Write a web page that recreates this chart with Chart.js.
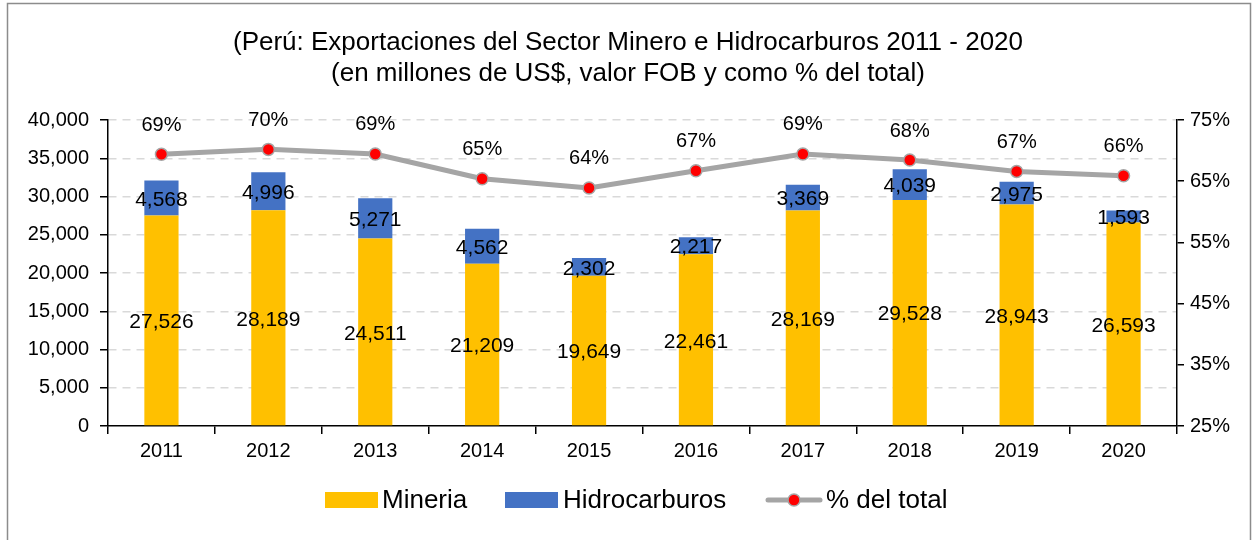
<!DOCTYPE html>
<html>
<head>
<meta charset="utf-8">
<script src="https://cdn.jsdelivr.net/npm/chart.js@4/dist/chart.umd.min.js"></script>
<style>
  html, body { margin: 0; padding: 0; background: #fff; }
  #wrap { width: 1253px; height: 540px; }
</style>
</head>
<body>
<div id="wrap"><canvas id="c" width="1253" height="540"></canvas></div>
<script>
const years = ['2011','2012','2013','2014','2015','2016','2017','2018','2019','2020'];
const mineria = [27526, 28189, 24511, 21209, 19649, 22461, 28169, 29528, 28943, 26593];
const hidrocarburos = [4568, 4996, 5271, 4562, 2302, 2217, 3369, 4039, 2975, 1593];
const pctTotal = [69.4, 70.2, 69.45, 65.4, 63.9, 66.7, 69.45, 68.45, 66.6, 65.9];
const leftTicks = { min: 0, max: 40000, step: 5000 };
const rightTicks = { min: 25, max: 75, step: 10 };
const titleLines = ['(Perú: Exportaciones del Sector Minero e Hidrocarburos 2011 - 2020', '(en millones de US$, valor FOB y como % del total)'];
const seriesNames = ['Mineria', 'Hidrocarburos', '% del total'];

const FONT = "'Liberation Sans', Arial, sans-serif";
const GOLD = '#FFC000', BLUE = '#4472C4', GRAY = '#A5A5A5', RED = '#FF0000';
const fmt = v => Math.round(v).toLocaleString('en-US');

const decor = {
  id: 'decor',
  beforeDraw(chart) {
    const ctx = chart.ctx;
    ctx.save();
    ctx.fillStyle = '#fff';
    ctx.fillRect(0, 0, chart.width, chart.height);
    ctx.restore();
  },
  afterDatasetsDraw(chart) {
    const ctx = chart.ctx;
    ctx.save();
    ctx.fillStyle = '#000';
    ctx.textAlign = 'center';
    ctx.textBaseline = 'middle';
    ctx.font = '21px ' + FONT;
    [0, 1].forEach(di => {
      const meta = chart.getDatasetMeta(di);
      meta.data.forEach((el, i) => {
        const v = chart.data.datasets[di].data[i];
        ctx.fillText(fmt(v), el.x, (el.y + el.base) / 2 + 2);
      });
    });
    ctx.font = '20px ' + FONT;
    const lm = chart.getDatasetMeta(2);
    lm.data.forEach((el, i) => {
      const v = chart.data.datasets[2].data[i];
      ctx.fillText(Math.round(v) + '%', el.x, el.y - 29);
    });
    ctx.restore();
  },
  afterDraw(chart) {
    const ctx = chart.ctx;
    ctx.save();
    // frame
    ctx.strokeStyle = '#8C8C8C';
    ctx.lineWidth = 1.5;
    ctx.beginPath();
    ctx.moveTo(7.5, 545); ctx.lineTo(7.5, 3.5); ctx.lineTo(1250.5, 3.5); ctx.lineTo(1250.5, 545);
    ctx.stroke();
    // title
    ctx.fillStyle = '#000';
    ctx.textAlign = 'center';
    ctx.textBaseline = 'middle';
    ctx.font = '26px ' + FONT;
    ctx.fillText(titleLines[0], 628, 43);
    ctx.fillText(titleLines[1], 628, 74);
    // legend
    ctx.font = '26px ' + FONT;
    ctx.textAlign = 'left';
    const ly = 500;
    ctx.fillStyle = GOLD; ctx.fillRect(325, ly - 8, 53, 16);
    ctx.fillStyle = '#000'; ctx.fillText(seriesNames[0], 382, ly + 1);
    ctx.fillStyle = BLUE; ctx.fillRect(505, ly - 8, 53, 16);
    ctx.fillStyle = '#000'; ctx.fillText(seriesNames[1], 563, ly + 1);
    ctx.strokeStyle = GRAY; ctx.lineWidth = 5; ctx.lineCap = 'round';
    ctx.beginPath(); ctx.moveTo(768, ly); ctx.lineTo(820, ly); ctx.stroke();
    ctx.beginPath(); ctx.arc(794, ly, 6, 0, Math.PI * 2);
    ctx.fillStyle = RED; ctx.fill();
    ctx.lineWidth = 1.5; ctx.strokeStyle = GRAY; ctx.stroke();
    ctx.fillStyle = '#000'; ctx.fillText(seriesNames[2], 826, ly + 1);
    ctx.restore();
  }
};

new Chart(document.getElementById('c'), {
  data: {
    labels: years,
    datasets: [
      { type: 'bar', label: seriesNames[0], data: mineria, backgroundColor: GOLD, stack: 's', order: 1, yAxisID: 'y', barPercentage: 0.32, categoryPercentage: 1 },
      { type: 'bar', label: seriesNames[1], data: hidrocarburos, backgroundColor: BLUE, stack: 's', order: 2, yAxisID: 'y', barPercentage: 0.32, categoryPercentage: 1 },
      { type: 'line', label: seriesNames[2], data: pctTotal, yAxisID: 'y2', order: 0,
        borderColor: GRAY, borderWidth: 5, pointRadius: 6, pointHoverRadius: 6,
        pointBackgroundColor: RED, pointBorderColor: GRAY, pointBorderWidth: 1.5, tension: 0 }
    ]
  },
  options: {
    responsive: false,
    animation: false,
    events: [],
    layout: { padding: { top: 120, bottom: 80, left: 0, right: 0 } },
    plugins: { legend: { display: false }, title: { display: false }, tooltip: { enabled: false } },
    scales: {
      x: {
        stacked: true,
        offset: true,
        grid: { offset: true, drawOnChartArea: false, drawTicks: true, tickLength: 8, tickColor: '#000', lineWidth: 1.5 },
        border: { color: '#000', width: 1.5 },
        ticks: { color: '#000', font: { family: FONT, size: 20 }, padding: 5, maxRotation: 0 },
        afterFit(s) { s.height = 540 - 426 - 80; }
      },
      y: {
        stacked: true,
        position: 'left',
        min: leftTicks.min, max: leftTicks.max,
        ticks: { stepSize: leftTicks.step, color: '#000', font: { family: FONT, size: 20 }, padding: 11, callback: v => fmt(v) },
        grid: { color: ctx => ctx.tick && ctx.tick.value === 0 ? 'rgba(0,0,0,0)' : '#D9D9D9', lineWidth: 1.5, tickColor: '#000', tickLength: 8 },
        border: { color: '#000', width: 1.5, dash: [8, 6] },
        afterFit(s) { s.width = 108; }
      },
      y2: {
        position: 'right',
        min: rightTicks.min, max: rightTicks.max,
        ticks: { stepSize: rightTicks.step, color: '#000', font: { family: FONT, size: 20 }, padding: 6, callback: v => v + '%' },
        grid: { drawOnChartArea: false, tickColor: '#000', tickLength: 7, lineWidth: 1.5 },
        border: { color: '#000', width: 1.5 },
        afterFit(s) { s.width = 1253 - 1177; }
      }
    }
  },
  plugins: [decor]
});
</script>
</body>
</html>
